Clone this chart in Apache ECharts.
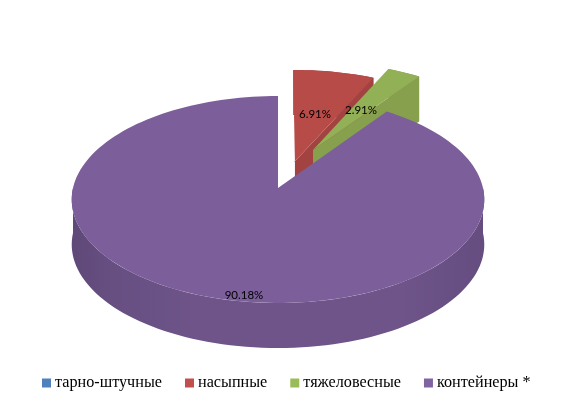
<!DOCTYPE html>
<html>
<head>
<meta charset="utf-8">
<style>
    html, body { margin: 0; padding: 0; background: #fff; }
    #chart { width: 582px; height: 413px; }
</style>
</head>
<body>
<div id="chart"></div>
<script src="https://cdn.jsdelivr.net/npm/echarts@6/dist/echarts.min.js"></script>
<script>
const categories = ['тарно-штучные', 'насыпные', 'тяжеловесные', 'контейнеры *'];
const shares = [0, 6.91, 2.91, 90.18];
const legendColors = ['#4F81BD', '#C0504D', '#9BBB59', '#8064A2'];
const topColors = ['#4F81BD', '#B74B48', '#92B055', '#7C5E9A'];
const sideColors = ['#44709F', '#A34341', '#86A04D', '#6D5389'];

// Exploded slices: x and y offset in disc units (y goes to the back), then radius scale
const explode = [[0, 0, 1], [0.085, 0.27, 1.055], [0.178, 0.388, 1.046], [0, 0, 1]];
const labelSpots = [null, [315, 114], [361, 110], [244, 295]];

// Flat disc seen in perspective: the back looks smaller than the front
const apexX = 278, apexY = 188, radiusX = 205, radiusY = 102.2, persp = 1 / 9, depth = 45;

function project(x, y, down) {
    const d = 1 + persp * y;
    return [apexX + radiusX * x / d, apexY - radiusY * y / d + (down || 0)];
}

function rimPoints(from, to, off, down) {
    const pts = [];
    const steps = Math.max(2, Math.ceil(Math.abs(to - from) / 2));
    for (let i = 0; i <= steps; i++) {
        const a = (from + (to - from) * i / steps) * Math.PI / 180;
        pts.push(project(off[0] + off[2] * Math.sin(a), off[1] + off[2] * Math.cos(a), down));
    }
    return pts;
}

function face(points, fill) {
    return { type: 'polygon', silent: true, shape: { points: points }, style: { fill: fill } };
}

function renderSlice(params, api) {
    const idx = params.seriesIndex;
    const share = api.value(0);
    if (!share) return { type: 'group', children: [] };

    const before = shares.slice(0, idx).reduce((s, v) => s + v, 0);
    const from = before * 3.6;
    const to = (before + share) * 3.6;
    const off = explode[idx];
    const center = project(off[0], off[1]);
    const children = [];

    // outer wall, only the part facing the viewer
    const wallFrom = Math.max(from, 90);
    const wallTo = Math.min(to, 270);
    if (wallFrom < wallTo) {
        const wall = rimPoints(wallFrom, wallTo, off);
        const lower = rimPoints(wallFrom, wallTo, off, depth).reverse();
        children.push(face(wall.concat(lower), new echarts.graphic.LinearGradient(0, 0, 1, 0, [
            { offset: 0, color: '#5F4978' },
            { offset: 0.1, color: '#674F82' },
            { offset: 0.3, color: '#6E5489' },
            { offset: 0.8, color: '#6E5489' },
            { offset: 1, color: '#654D80' }
        ])));
    }

    if (to < 180) {
        // cut faces of the small slices, right side is the one that shows
        const end = rimPoints(to, to, off)[0];
        const endLow = rimPoints(to, to, off, depth)[0];
        const arcTop = rimPoints(from, to, off);
        const arcLow = rimPoints(from, to, off, depth).reverse();
        children.push(face(arcTop.concat(arcLow), sideColors[idx]));
        children.push(face([center, end, endLow, [center[0], center[1] + depth]], sideColors[idx]));
    }

    children.push(face([center].concat(rimPoints(from, to, off)), topColors[idx]));

    const spot = labelSpots[idx];
    children.push({
        type: 'text',
        silent: true,
        x: spot[0],
        y: spot[1],
        style: {
            text: share.toFixed(2) + '%',
            fill: '#000',
            font: '11.5px Lato',
            align: 'center',
            verticalAlign: 'middle'
        }
    });
    return { type: 'group', children: children };
}

const myChart = echarts.init(document.getElementById('chart'), null, { renderer: 'canvas' });
myChart.setOption({
    backgroundColor: '#fff',
    animation: false,
    legend: {
        data: categories,
        left: 37,
        top: 370,
        icon: 'rect',
        itemWidth: 9,
        itemHeight: 9,
        itemGap: 23,
        selectedMode: false,
        textStyle: {
            fontFamily: 'Liberation Serif',
            fontSize: 16.2,
            color: '#000',
            padding: [0, 0, 0, -1]
        }
    },
    series: categories.map((name, i) => ({
        name: name,
        type: 'custom',
        coordinateSystem: 'none',
        renderItem: renderSlice,
        itemStyle: { color: legendColors[i] },
        data: [[shares[i]]]
    }))
});
</script>
</body>
</html>
